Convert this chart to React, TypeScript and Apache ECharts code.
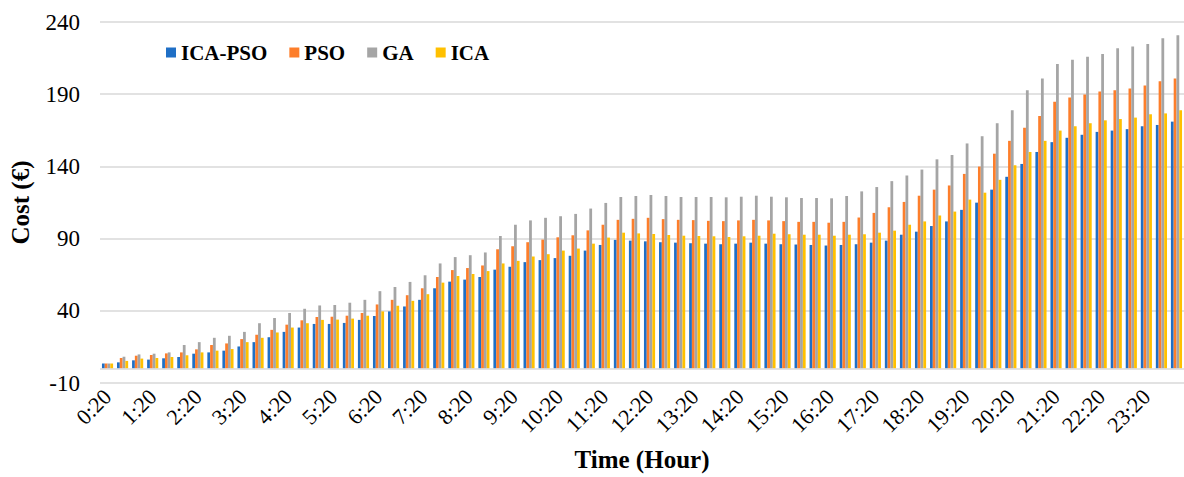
import React, { useEffect, useRef } from "react";
import * as echarts from "echarts";

const categories: string[] = [
  "0:20","0:40","1:00","1:20","1:40","2:00","2:20","2:40","3:00","3:20","3:40","4:00",
  "4:20","4:40","5:00","5:20","5:40","6:00","6:20","6:40","7:00","7:20","7:40","8:00",
  "8:20","8:40","9:00","9:20","9:40","10:00","10:20","10:40","11:00","11:20","11:40","12:00",
  "12:20","12:40","13:00","13:20","13:40","14:00","14:20","14:40","15:00","15:20","15:40","16:00",
  "16:20","16:40","17:00","17:20","17:40","18:00","18:20","18:40","19:00","19:20","19:40","20:00",
  "20:20","20:40","21:00","21:20","21:40","22:00","22:20","22:40","23:00","23:20","23:40","24:00",
];

const icaPso: number[] = [
  3.5, 4.3, 5.7, 6.2, 7.1, 8.0, 10.3, 11.2, 12.4, 15.3, 18.3, 21.7, 25.4, 28.4, 30.9, 30.9, 31.6, 33.7,
  36.4, 39.6, 43.0, 47.6, 55.6, 60.2, 61.6, 63.4, 68.5, 70.5, 73.7, 75.1, 76.5, 78.1, 81.7, 85.6, 89.1, 88.6,
  88.1, 87.5, 87.2, 86.8, 86.5, 86.1, 86.5, 87.2, 86.5, 86.1, 85.9, 85.6, 85.2, 85.6, 86.1, 87.2, 88.6, 92.7,
  94.8, 98.7, 101.9, 109.9, 114.9, 123.9, 132.8, 141.7, 150.0, 156.8, 159.8, 161.9, 163.9, 164.8, 165.8, 167.8, 168.7, 171.0,
];

const pso: number[] = [
  3.5, 7.3, 8.9, 9.4, 10.5, 11.2, 13.3, 16.3, 17.4, 20.4, 23.4, 26.8, 30.4, 33.4, 35.7, 35.9, 36.6, 38.5,
  44.4, 47.6, 50.8, 55.6, 63.4, 68.2, 69.6, 71.4, 82.6, 84.7, 87.5, 89.3, 90.9, 92.3, 95.7, 99.6, 103.0, 103.7,
  104.4, 103.5, 103.0, 102.8, 102.3, 102.1, 102.6, 103.0, 102.6, 102.1, 101.6, 101.6, 101.0, 101.6, 104.6, 107.8, 111.7, 115.4,
  119.7, 123.9, 126.8, 134.8, 139.9, 148.8, 157.7, 166.7, 174.9, 184.8, 187.7, 189.8, 191.8, 192.8, 193.9, 196.0, 198.9, 200.8,
];

const ga: number[] = [
  3.5, 8.2, 9.8, 10.3, 11.2, 16.3, 18.3, 21.3, 22.7, 25.4, 31.4, 35.0, 38.5, 41.4, 43.7, 44.0, 45.6, 47.6,
  53.6, 56.5, 60.0, 64.6, 72.8, 77.2, 78.5, 80.4, 91.8, 99.6, 102.6, 104.4, 105.5, 107.1, 110.8, 114.7, 118.8, 119.5,
  120.2, 119.5, 118.8, 118.8, 118.8, 118.6, 119.0, 119.7, 119.0, 118.6, 118.1, 118.1, 117.9, 119.5, 122.7, 125.7, 129.8, 133.7,
  137.8, 144.9, 147.9, 155.9, 160.9, 169.9, 178.8, 192.8, 200.8, 210.9, 213.8, 215.9, 217.9, 221.8, 223.0, 224.8, 228.7, 230.8,
];

const ica: number[] = [
  3.5, 5.3, 6.9, 7.3, 8.0, 9.2, 11.2, 12.4, 13.5, 18.3, 21.3, 25.0, 28.4, 31.4, 33.7, 33.9, 34.6, 36.6,
  39.6, 43.5, 46.9, 51.5, 59.5, 64.1, 65.5, 67.5, 72.8, 74.6, 77.6, 79.2, 81.7, 83.1, 86.5, 90.7, 94.1, 93.6,
  93.2, 92.5, 92.0, 91.8, 91.6, 91.1, 91.6, 92.0, 93.4, 93.0, 92.7, 92.7, 92.0, 92.7, 93.0, 94.1, 95.5, 99.6,
  101.9, 106.0, 108.7, 117.0, 121.8, 130.7, 140.8, 150.0, 157.7, 164.8, 167.8, 169.9, 171.9, 172.8, 173.8, 176.1, 176.7, 178.8,
];

const seriesNames = ["ICA-PSO", "PSO", "GA", "ICA"];
const seriesColors = ["#1f6fc6", "#fd7e2b", "#a5a5a5", "#ffc000"];
const yTicks = { min: -10, max: 240, interval: 50 };

const FONT = "'Liberation Serif', 'Times New Roman', serif";

export default function App() {
  const ref = useRef<HTMLDivElement>(null);
  useEffect(() => {
    if (!ref.current) return;
    const chart = echarts.init(ref.current, undefined, { renderer: "svg" });
    const datasets = [icaPso, pso, ga, ica];
    chart.setOption({
      animation: false,
      backgroundColor: "#ffffff",
      textStyle: { fontFamily: FONT },
      grid: { left: 98, right: 0, top: 22, bottom: 91, containLabel: false },
      legend: {
        left: 161,
        top: 37,
        itemWidth: 10,
        itemHeight: 10,
        itemGap: 22,
        icon: "rect",
        data: seriesNames,
        textStyle: { fontFamily: FONT, fontWeight: "bold", fontSize: 21, color: "#000" },
      },
      xAxis: {
        type: "category",
        data: categories,
        name: "Time (Hour)",
        nameLocation: "middle",
        nameGap: 64,
        nameTextStyle: { fontFamily: FONT, fontWeight: "bold", fontSize: 25, color: "#000" },
        axisLine: { show: false },
        axisTick: { show: false },
        axisLabel: {
          interval: 2,
          rotate: 45,
          margin: 10,
          fontFamily: FONT,
          fontSize: 22,
          color: "#000",
        },
      },
      yAxis: {
        type: "value",
        min: yTicks.min,
        max: yTicks.max,
        interval: yTicks.interval,
        name: "Cost (€)",
        nameLocation: "middle",
        nameGap: 67,
        nameTextStyle: { fontFamily: FONT, fontWeight: "bold", fontSize: 25, color: "#000" },
        axisLine: { show: false },
        axisTick: { show: false },
        axisLabel: { margin: 20, fontFamily: FONT, fontSize: 23, color: "#000" },
        splitLine: { lineStyle: { color: "#d9d9d9", width: 1.5 } },
      },
      series: datasets.map((d, i) => ({
        name: seriesNames[i],
        type: "bar",
        data: d,
        barGap: "0%",
        barCategoryGap: "26%",
        itemStyle: { color: seriesColors[i] },
        ...(i === 0
          ? {
              markLine: {
                silent: true,
                symbol: ["none", "none"],
                label: { show: false },
                lineStyle: { color: "#d9d9d9", width: 1.5, type: "solid" },
                data: [{ yAxis: 0 }],
              },
            }
          : {}),
      })),
    });
    return () => chart.dispose();
  }, []);
  return (
    <div
      ref={ref}
      style={{ position: "fixed", left: 0, top: 0, width: 1184, height: 477 }}
    />
  );
}
